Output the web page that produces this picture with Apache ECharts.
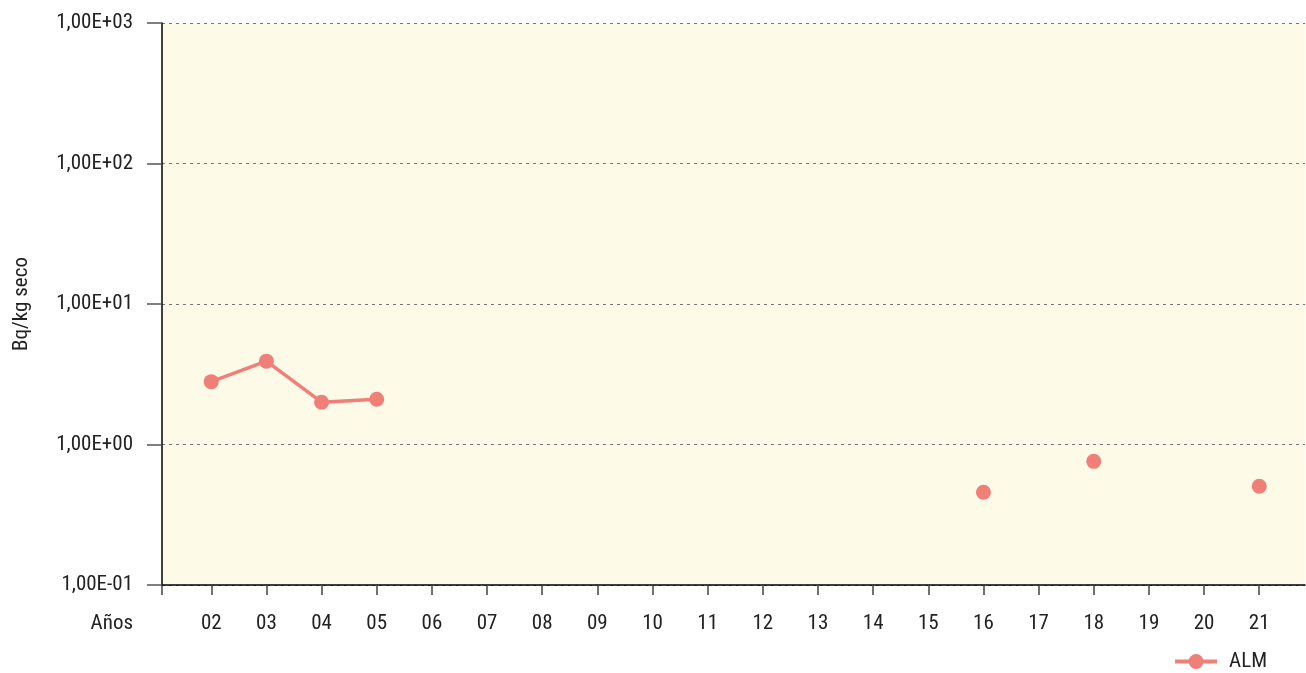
<!DOCTYPE html>
<html>
<head>
<meta charset="utf-8">
<script src="https://cdn.jsdelivr.net/npm/echarts@6/dist/echarts.min.js"></script>
<style>
html,body{margin:0;padding:0;background:#fff;}
#chart{width:1306px;height:673px;}
</style>
</head>
<body>
<div id="chart"></div>
<script>
const years = ['02','03','04','05','06','07','08','09','10','11','12','13','14','15','16','17','18','19','20','21'];
const almValues = [2.80, 3.92, 2.00, 2.10, null, null, null, null, null, null, null, null, null, null, 0.457, null, 0.759, null, null, 0.504];
const seriesName = 'ALM';
const yAxisName = 'Bq/kg seco';
const xAxisName = 'Años';

const FONT = '"Roboto Condensed", "DejaVu Sans Condensed", sans-serif';
const yearNums = years.map(y => parseInt(y, 10));
const data = years.map((y, i) => [yearNums[i], almValues[i]]);
const xMin = 1.107, xMax = 21.83;
const COLOR = '#f07f78';

function sci(v) {
  const e = Math.round(Math.log10(v));
  const m = v / Math.pow(10, e);
  const sign = e < 0 ? '-' : '+';
  return m.toFixed(2).replace('.', ',') + 'E' + sign + String(Math.abs(e)).padStart(2, '0');
}

const chart = echarts.init(document.getElementById('chart'), null, {renderer: 'canvas'});
chart.setOption({
  animation: false,
  textStyle: {fontFamily: FONT},
  grid: {left: 162, right: 1, top: 23, bottom: 88, show: true, backgroundColor: '#fefae8', borderWidth: 0},
  legend: {
    right: 34, top: 646,
    itemWidth: 42, itemHeight: 15,
    icon: 'path://M0,5.5 L42,5.5 L42,9.5 L0,9.5 Z M21,0 A7.5,7.5 0 1 1 21,15 A7.5,7.5 0 1 1 21,0 Z',
    textStyle: {fontFamily: FONT, fontSize: 21, color: '#222', padding: [0, 0, 0, 7]},
    data: [seriesName]
  },
  xAxis: {
    type: 'value',
    min: xMin, max: xMax,
    name: xAxisName,
    nameLocation: 'start',
    nameGap: 29,
    nameTextStyle: {fontFamily: FONT, fontSize: 21, color: '#222', verticalAlign: 'top', padding: [28, 0, 0, 0]},
    splitLine: {show: false},
    axisLine: {show: true, lineStyle: {color: '#000', width: 1.5}},
    axisTick: {show: true, length: 10, lineStyle: {color: '#444', width: 1.5}, customValues: [xMin].concat(yearNums)},
    axisLabel: {
      customValues: yearNums,
      margin: 28,
      fontFamily: FONT, fontSize: 21, color: '#222',
      formatter: v => String(Math.round(v)).padStart(2, '0')
    }
  },
  yAxis: {
    type: 'log',
    logBase: 10,
    min: 0.1, max: 1000,
    name: yAxisName,
    nameLocation: 'middle',
    nameGap: 130,
    nameRotate: 90,
    nameTextStyle: {fontFamily: FONT, fontSize: 21, color: '#222'},
    axisLine: {show: true, lineStyle: {color: '#000', width: 1.5}},
    axisTick: {show: true, length: 15, lineStyle: {color: '#555', width: 1.5}},
    splitLine: {show: true, lineStyle: {color: '#777', type: [3, 4], width: 1}},
    axisLabel: {margin: 29, fontFamily: FONT, fontSize: 21, color: '#222', formatter: sci}
  },
  series: [{
    name: seriesName,
    type: 'line',
    data: data,
    connectNulls: false,
    symbol: 'circle',
    symbolSize: 15,
    itemStyle: {color: COLOR},
    lineStyle: {color: COLOR, width: 3.5}
  }]
});
</script>
</body>
</html>
